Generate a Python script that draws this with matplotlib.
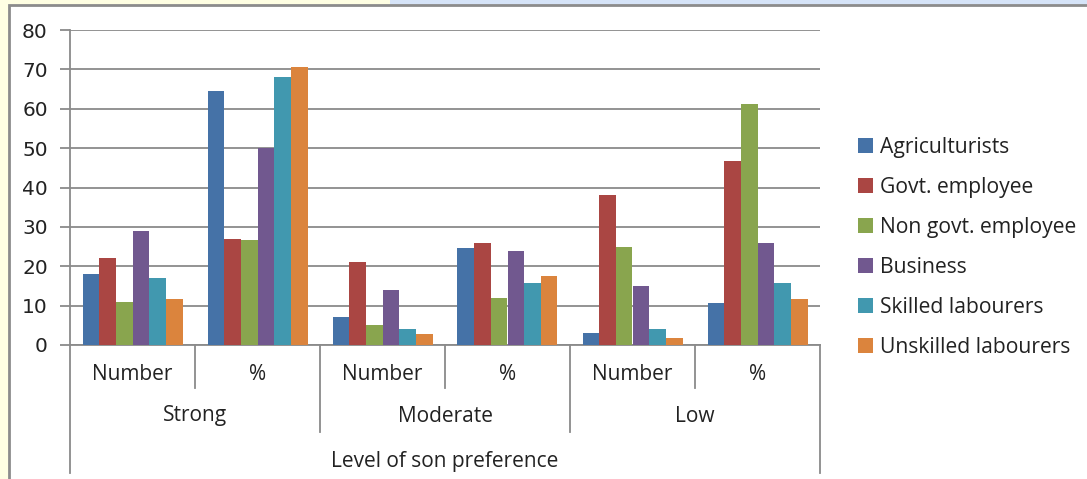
import matplotlib
matplotlib.use("Agg")
import matplotlib.pyplot as plt
from matplotlib.patches import Rectangle
from matplotlib.lines import Line2D
import numpy as np

# Sub-categories (x slots) and their parent groups
sub_labels = ["Number", "%", "Number", "%", "Number", "%"]
group_labels = ["Strong", "Moderate", "Low"]
axis_title = "Level of son preference"

series_names = ["Agriculturists", "Govt. employee", "Non govt. employee",
                "Business", "Skilled labourers", "Unskilled labourers"]
agriculturists = [18, 64.5, 7, 24.7, 3, 10.6]
govt_employee = [22, 27, 21, 25.8, 38, 46.8]
non_govt_employee = [11, 26.7, 5, 12, 24.8, 61.1]
business = [29, 50, 14, 24, 15, 25.9]
skilled_labourers = [17, 68, 4, 15.8, 4, 15.8]
unskilled_labourers = [11.8, 70.6, 2.9, 17.5, 1.7, 11.8]
series_values = [agriculturists, govt_employee, non_govt_employee,
                 business, skilled_labourers, unskilled_labourers]
colors = ["#4572A7", "#AA4643", "#89A54E", "#71588F", "#4198AF", "#DB843D"]

W, H = 1087, 479
fig = plt.figure(figsize=(W / 100, H / 100), dpi=100)
fig.patch.set_facecolor("#FFFFE3")

def fx(px):
    return px / W

def fy(py):
    return 1 - py / H

# light blue band along the top
fig.patches.append(Rectangle((fx(390), fy(5)), fx(W - 390), 5 / H,
                             transform=fig.transFigure, facecolor="#D6E4F8",
                             edgecolor="none", zorder=-2))
# white chart area with grey frame
fig.patches.append(Rectangle((fx(8.5), fy(H + 10)), fx(W + 10), (H + 10 - 5) / H,
                             transform=fig.transFigure, facecolor="white",
                             edgecolor="#8C8C8C", linewidth=2, zorder=-1))

left, right, top, bottom = 70, 820, 30, 345
ax = fig.add_axes([fx(left), fy(bottom), fx(right - left), (bottom - top) / H])
ax.set_facecolor("none")
ax.set_zorder(2)

n = len(series_names)
x = np.arange(len(sub_labels))
bw = 1 / 7.5
for i, (name, vals, c) in enumerate(zip(series_names, series_values, colors)):
    ax.bar(x + (i - (n - 1) / 2) * bw, vals, width=bw, color=c, label=name,
           edgecolor="none", zorder=3)

ax.set_xlim(-0.5, len(sub_labels) - 0.5)
ax.set_ylim(0, 80)
ax.set_yticks(range(0, 81, 10))
ax.yaxis.grid(True, color="#8A8A8A", linewidth=1.3, zorder=0)
ax.set_axisbelow(True)
for s in ["top", "right"]:
    ax.spines[s].set_visible(False)
ax.spines["left"].set_color("#8A8A8A")
ax.spines["left"].set_linewidth(1.3)
ax.spines["bottom"].set_color("#8A8A8A")
ax.spines["bottom"].set_linewidth(1.3)
ax.tick_params(axis="y", length=7, width=1.3, color="#8A8A8A", pad=9,
               labelsize=14.5, labelcolor="#222222")
ax.set_xticks([])
for lbl in ax.get_yticklabels():
    lbl.set_family("DejaVu Sans")

# multi-level category axis
axis_h = bottom - top

def ay(py):
    return -(py - bottom) / axis_h

trans = ax.get_xaxis_transform()
for k in range(len(sub_labels) + 1):
    xs = k - 0.5
    if k == 0 or k == len(sub_labels):
        end = 473
    elif k % 2 == 0:
        end = 432
    else:
        end = 388
    ax.add_line(Line2D([xs, xs], [0, ay(end)], transform=trans, color="#8A8A8A",
                       linewidth=1.3, clip_on=False))

cat_font = dict(family=["Open Sans", "DejaVu Sans"], fontsize=15, color="#222222")
for k, lab in enumerate(sub_labels):
    ax.text(k, ay(374), lab, transform=trans, ha="center", va="center", **cat_font)
for g, lab in enumerate(group_labels):
    ax.text(2 * g + 0.5, ay(416), lab, transform=trans, ha="center", va="center",
            **cat_font)
ax.text((len(sub_labels) - 1) / 2, ay(461), axis_title, transform=trans,
        ha="center", va="center", **cat_font)

leg = fig.legend(loc="upper left", bbox_to_anchor=(fx(839), fy(118)),
                 frameon=False, handlelength=0.7, handleheight=0.7,
                 handletextpad=0.35, labelspacing=0.9,
                 prop=dict(family=["Open Sans", "DejaVu Sans"], size=15.2))
for t in leg.get_texts():
    t.set_color("#222222")

fig.savefig("out.png", dpi=100, facecolor=fig.get_facecolor())
